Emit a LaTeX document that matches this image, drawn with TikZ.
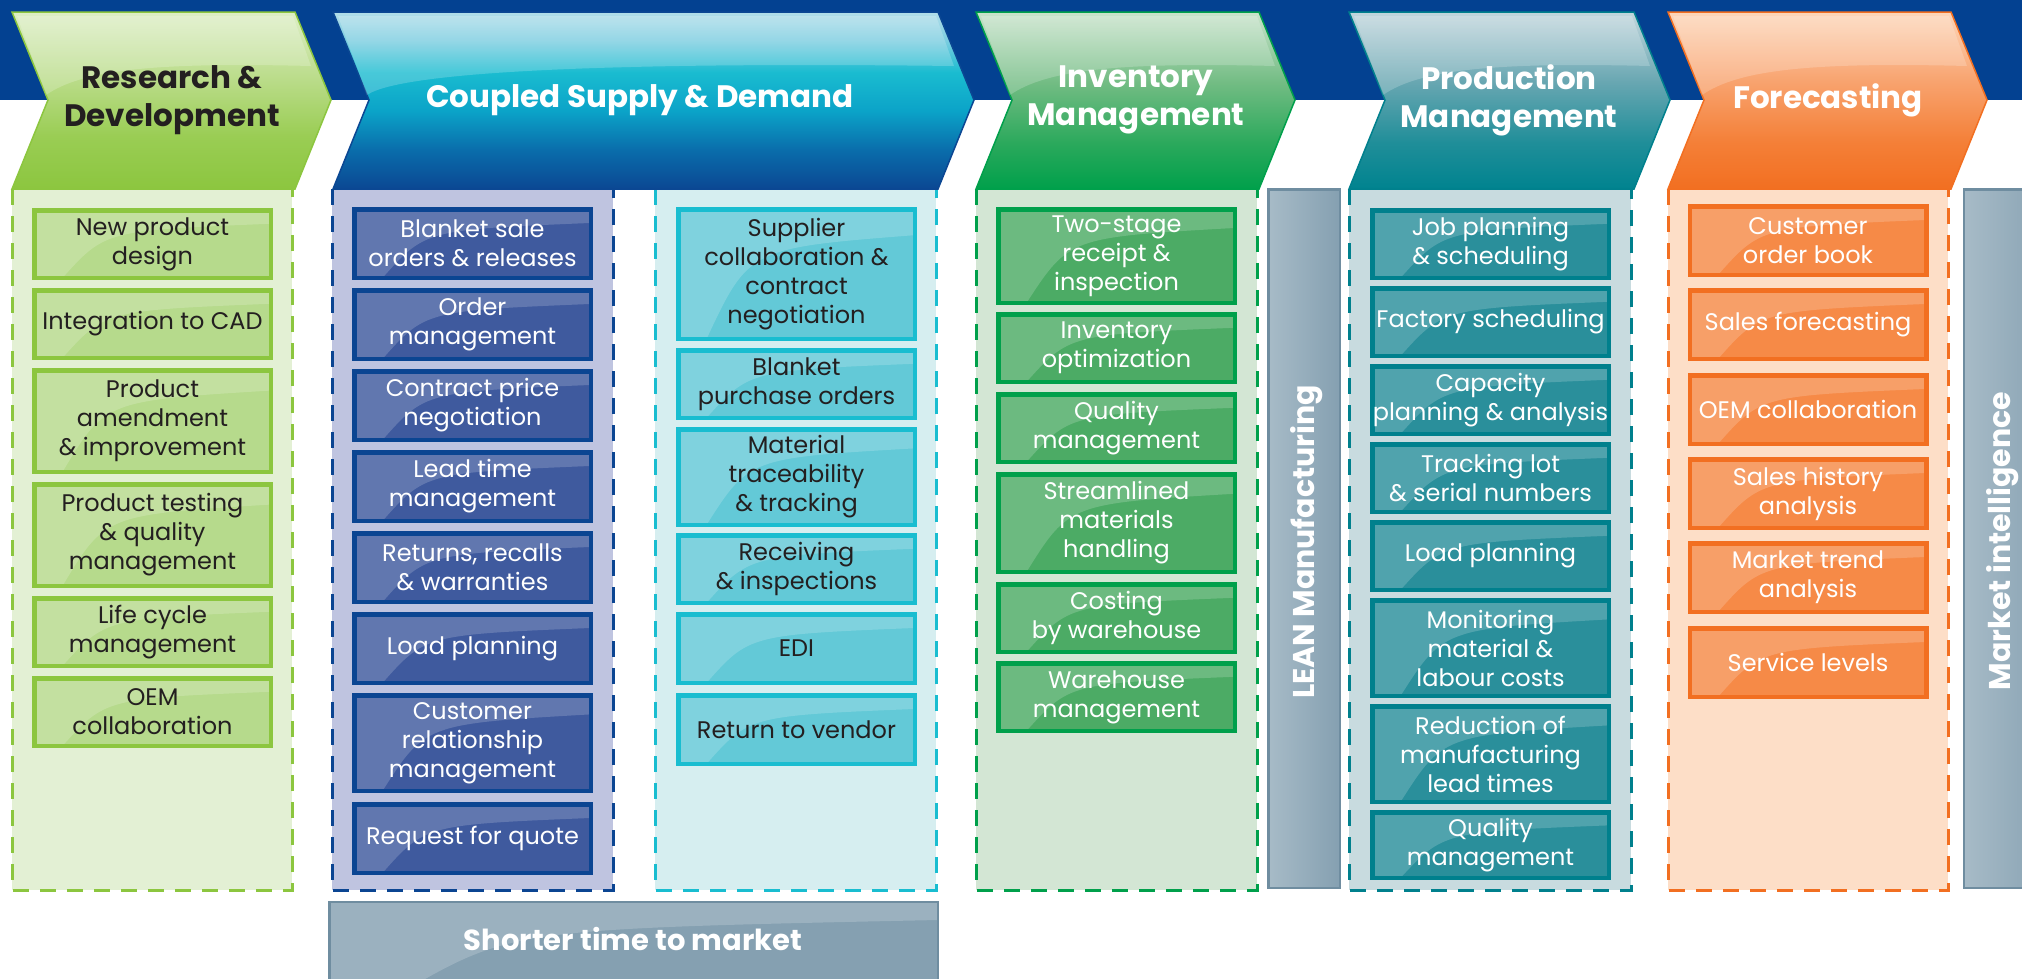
\documentclass[tikz,border=0pt]{standalone}
\usepackage{fontspec}
\setmainfont{Poppins}
\usetikzlibrary{calc}

\definecolor{band}{HTML}{034191}
\definecolor{txtdark}{HTML}{231F20}
% R&D
\definecolor{rdA}{HTML}{8CC63F}
\definecolor{rdB}{HTML}{9ACD54}
\definecolor{rdC}{HTML}{B8DB86}
\definecolor{rdD}{HTML}{DDEEC6}
\definecolor{rdline}{HTML}{8CC63F}
\definecolor{rdcol}{HTML}{E3F0D4}
\definecolor{rditem}{HTML}{B6DA8C}
% coupled
\definecolor{csA}{HTML}{0B4793}
\definecolor{csB}{HTML}{0A6DAB}
\definecolor{csC}{HTML}{0BA3C8}
\definecolor{csD}{HTML}{1ABCD0}
\definecolor{csE}{HTML}{7BCDE0}
\definecolor{csF}{HTML}{B2DEEA}
\definecolor{csline}{HTML}{0B4793}
\definecolor{clcol}{HTML}{BFC4E0}
\definecolor{clline}{HTML}{0B4592}
\definecolor{clitem}{HTML}{3F5A9E}
\definecolor{crcol}{HTML}{D6EEF0}
\definecolor{crline}{HTML}{19BDD0}
\definecolor{critem}{HTML}{63C9D7}
% inventory
\definecolor{imA}{HTML}{00A04B}
\definecolor{imB}{HTML}{2BA95C}
\definecolor{imC}{HTML}{72BC83}
\definecolor{imD}{HTML}{C9E3CB}
\definecolor{imline}{HTML}{00A04B}
\definecolor{imcol}{HTML}{D3E6D4}
\definecolor{imitem}{HTML}{4CAB65}
% production
\definecolor{pmA}{HTML}{00838F}
\definecolor{pmB}{HTML}{1F8E99}
\definecolor{pmC}{HTML}{67A6B1}
\definecolor{pmD}{HTML}{C2D6DD}
\definecolor{pmline}{HTML}{00808D}
\definecolor{pmcol}{HTML}{C8DBDF}
\definecolor{pmitem}{HTML}{2A8F9B}
% forecasting
\definecolor{fcA}{HTML}{F26F21}
\definecolor{fcB}{HTML}{F47F37}
\definecolor{fcC}{HTML}{F8A26D}
\definecolor{fcD}{HTML}{FDD6B9}
\definecolor{fcline}{HTML}{F26F21}
\definecolor{fccol}{HTML}{FDDEC7}
\definecolor{fcitem}{HTML}{F68A47}
% bars
\definecolor{barfill}{HTML}{85A0B1}
\definecolor{barlight}{HTML}{A7BBC7}
\definecolor{barline}{HTML}{6F8DA0}

\pgfdeclareverticalshading{rdsh}{100bp}{color(0bp)=(rdA); color(25bp)=(rdA); color(40bp)=(rdB); color(55bp)=(rdC); color(75bp)=(rdD); color(100bp)=(rdD)}
\pgfdeclareverticalshading{cssh}{100bp}{color(0bp)=(csA); color(25bp)=(csA); color(36bp)=(csB); color(47bp)=(csC); color(58bp)=(csD); color(67bp)=(csE); color(75bp)=(csF); color(100bp)=(csF)}
\pgfdeclareverticalshading{imsh}{100bp}{color(0bp)=(imA); color(25bp)=(imA); color(38bp)=(imB); color(55bp)=(imC); color(75bp)=(imD); color(100bp)=(imD)}
\pgfdeclareverticalshading{pmsh}{100bp}{color(0bp)=(pmA); color(25bp)=(pmA); color(38bp)=(pmB); color(55bp)=(pmC); color(75bp)=(pmD); color(100bp)=(pmD)}
\pgfdeclareverticalshading{fcsh}{100bp}{color(0bp)=(fcA); color(25bp)=(fcA); color(38bp)=(fcB); color(55bp)=(fcC); color(75bp)=(fcD); color(100bp)=(fcD)}

\newcommand{\chevron}[4]{%
  \shadedraw[shading=#3, draw=#4, line width=1.5pt]
    (#1,-12) -- (#2,-12) -- (#2+36,-100) -- (#2,-189) -- (#1,-189) -- (#1+36,-100) -- cycle;
  \fill[white, opacity=0.2]
    (#1+5,-16) -- (#2-2,-16) -- (#2+16,-66)
    .. controls ({(#1+#2)/2},-62) and (#1+70,-70) .. (#1+34,-95) -- cycle;}

\newcommand{\colbox}[4]{%
  \fill[#3] (#1,-189) rectangle (#2,-890);
  \draw[coldash, draw=#4] (#1,-189) -- (#1,-890) -- (#2,-890) -- (#2,-189);}

\newcommand{\itm}[6]{\node[#2, minimum height={#5-#4-4.5}] (#1) at (#3,{-(#4+#5)/2}) {#6};}

\tikzset{
  coldash/.style={line width=3pt, dash pattern=on 16pt off 11pt},
  gloss/.style={path picture={
    \coordinate (pa) at (path picture bounding box.north west);
    \coordinate (pb) at (path picture bounding box.south east);
    \fill[white, opacity=0.18] (pa) -- (pa -| pb) -- ($(pa -| pb)!0.2!(pb)$)
      .. controls ($(pa)!0.3!(pb)$) .. ($(pa |- pb)!0.12!(pb)$) -- (pa |- pb) -- cycle;}},
  itembox/.style={draw, line width=4.5pt, inner sep=0pt, align=center,
    minimum width=236.5pt, font=\fontsize{24}{29}\selectfont, gloss},
  rdbox/.style={itembox, fill=rditem, draw=rdline, text=txtdark},
  clbox/.style={itembox, fill=clitem, draw=clline, text=white},
  crbox/.style={itembox, fill=critem, draw=crline, text=txtdark},
  imbox/.style={itembox, fill=imitem, draw=imline, text=white},
  pmbox/.style={itembox, fill=pmitem, draw=pmline, text=white},
  fcbox/.style={itembox, fill=fcitem, draw=fcline, text=white},
  hdr/.style={align=center, inner sep=0pt, text=white,
    font=\bfseries\fontsize{31}{38}\selectfont},
  barbox/.style={draw=barline, line width=2.5pt, inner sep=0pt,
    left color=barlight, middle color=barfill, right color=barfill},
  bartxt/.style={inner sep=0pt, text=white, font=\bfseries\fontsize{30}{36}\selectfont}
}

\begin{document}
\begin{tikzpicture}[x=1pt, y=1pt]
\useasboundingbox (0,0) rectangle (2022,-978);
\clip (0,0) rectangle (2022,-978);
\fill[white] (0,0) rectangle (2022,-978);
% top band
\fill[band] (0,0) rectangle (2022,-100);

% columns
\colbox{12}{292}{rdcol}{rdline}
\colbox{332}{613}{clcol}{clline}
\colbox{655}{936}{crcol}{crline}
\colbox{976}{1257}{imcol}{imline}
\colbox{1349}{1631}{pmcol}{pmline}
\colbox{1668}{1948}{fccol}{fcline}

% chevrons
\chevron{12}{295}{rdsh}{rdline}
\chevron{333}{938}{cssh}{csline}
\chevron{976}{1259}{imsh}{imline}
\chevron{1349}{1634}{pmsh}{pmline}
\chevron{1668}{1951}{fcsh}{fcline}

% headers
\node[hdr, text=txtdark] (hrd) at (172,-100) {Research \&\\Development};
\node[hdr] (hcs) at (640,-100) {Coupled Supply \& Demand};
\node[hdr] (him) at (1136,-100) {Inventory\\Management};
\node[hdr] (hpm) at (1509,-100) {Production\\Management};
\node[hdr] (hfc) at (1828,-100) {Forecasting};

% R&D items
\itm{rd1}{rdbox}{152.5}{208}{280}{New product\\design}
\itm{rd2}{rdbox}{152.5}{288}{360}{Integration to CAD}
\itm{rd3}{rdbox}{152.5}{368}{474}{Product\\amendment\\\& improvement}
\itm{rd4}{rdbox}{152.5}{482}{588}{Product testing\\\& quality\\management}
\itm{rd5}{rdbox}{152.5}{596}{668}{Life cycle\\management}
\itm{rd6}{rdbox}{152.5}{676}{748}{OEM\\collaboration}

% Coupled left items
\itm{cl1}{clbox}{472.5}{207}{280}{Blanket sale\\orders \& releases}
\itm{cl2}{clbox}{472.5}{288}{361}{Order\\management}
\itm{cl3}{clbox}{472.5}{369}{442}{Contract price\\negotiation}
\itm{cl4}{clbox}{472.5}{450}{523}{Lead time\\management}
\itm{cl5}{clbox}{472.5}{531}{604}{Returns, recalls\\\& warranties}
\itm{cl6}{clbox}{472.5}{612}{685}{Load planning}
\itm{cl7}{clbox}{472.5}{693}{793}{Customer\\relationship\\management}
\itm{cl8}{clbox}{472.5}{802}{875}{Request for quote}

% Coupled right items
\itm{cr1}{crbox}{796.5}{207}{341}{Supplier\\collaboration \&\\contract\\negotiation}
\itm{cr2}{crbox}{796.5}{348}{420}{Blanket\\purchase orders}
\itm{cr3}{crbox}{796.5}{427}{527}{Material\\traceability\\\& tracking}
\itm{cr4}{crbox}{796.5}{533}{605}{Receiving\\\& inspections}
\itm{cr5}{crbox}{796.5}{612}{685}{EDI}
\itm{cr6}{crbox}{796.5}{693}{766}{Return to vendor}

% Inventory items
\itm{im1}{imbox}{1116.5}{207}{305}{Two-stage\\receipt \&\\inspection}
\itm{im2}{imbox}{1116.5}{312}{384}{Inventory\\optimization}
\itm{im3}{imbox}{1116.5}{392}{464}{Quality\\management}
\itm{im4}{imbox}{1116.5}{472}{574}{Streamlined\\materials\\handling}
\itm{im5}{imbox}{1116.5}{582}{654}{Costing\\by warehouse}
\itm{im6}{imbox}{1116.5}{661}{733}{Warehouse\\management}

% Production items
\itm{pm1}{pmbox}{1490.5}{208}{280}{Job planning\\\& scheduling}
\itm{pm2}{pmbox}{1490.5}{286}{358}{Factory scheduling}
\itm{pm3}{pmbox}{1490.5}{364}{436}{Capacity\\planning \& analysis}
\itm{pm4}{pmbox}{1490.5}{442}{514}{Tracking lot\\\& serial numbers}
\itm{pm5}{pmbox}{1490.5}{520}{592}{Load planning}
\itm{pm6}{pmbox}{1490.5}{598}{698}{Monitoring\\material \&\\labour costs}
\itm{pm7}{pmbox}{1490.5}{704}{804}{Reduction of\\manufacturing\\lead times}
\itm{pm8}{pmbox}{1490.5}{810}{880}{Quality\\management}

% Forecasting items
\itm{fc1}{fcbox}{1808}{204}{277}{Customer\\order book}
\itm{fc2}{fcbox}{1808}{288}{361}{Sales forecasting}
\itm{fc3}{fcbox}{1808}{373}{446}{OEM collaboration}
\itm{fc4}{fcbox}{1808}{457}{530}{Sales history\\analysis}
\itm{fc5}{fcbox}{1808}{541}{614}{Market trend\\analysis}
\itm{fc6}{fcbox}{1808}{626}{699}{Service levels}

% side bars
\node[barbox, minimum width=71.5pt, minimum height=698.5pt] (lean) at (1304,-538.5) {};
\node[bartxt, rotate=90] (leantxt) at (1307,-542) {LEAN Manufacturing};
\node[barbox, minimum width=92pt, minimum height=698.5pt] (mi) at (2010,-538.5) {};
\node[bartxt, rotate=90] (mitxt) at (2003,-541) {Market intelligence};

% bottom bar
\node[draw=barline, line width=2.5pt, inner sep=0pt, fill=barfill, gloss,
      minimum width=608.5pt, minimum height=90pt] (stm) at (633.5,-947) {};
\node[bartxt, font=\bfseries\fontsize{29}{35}\selectfont] (stmtxt) at (633,-939) {Shorter time to market};
\end{tikzpicture}
\end{document}
